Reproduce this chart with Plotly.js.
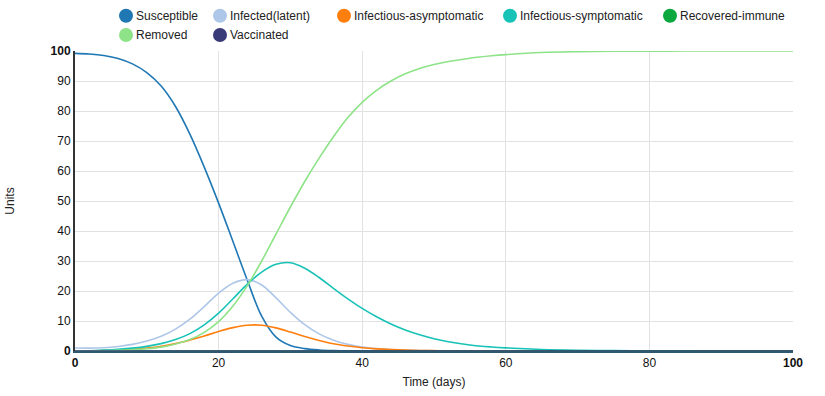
<!DOCTYPE html>
<html>
<head>
<meta charset="utf-8">
<script src="https://cdn.plot.ly/plotly-3.0.1.min.js"></script>
<style>
  html, body { margin: 0; padding: 0; background: #fff; }
  #chart { width: 825px; height: 396px; }
</style>
</head>
<body>
<div id="chart"></div>
<script>
// ---- Data ----
const timeDays = [0,2,4,6,8,10,12,14,16,18,20,22,24,26,28,30,32,34,36,38,40,42,44,46,48,50,52,55,58,60,65,70,75,80,85,90,95,100];

const susceptible = [99.2,99.0,98.5,97.5,95.7,92.8,88.3,81.5,72.3,61.3,49.3,36.5,23.6,11.6,4.6,1.8,0.8,0.35,0.15,0.07,0.03,0.01,0,0,0,0,0,0,0,0,0,0,0,0,0,0,0,0];
const infectedLatent = [1.0,0.95,1.1,1.5,2.2,3.3,4.9,7.3,10.6,14.8,19.3,22.6,23.8,22.0,17.7,12.9,8.8,5.7,3.6,2.2,1.3,0.78,0.46,0.27,0.16,0.1,0.06,0.03,0.015,0.01,0,0,0,0,0,0,0,0];
const infectiousAsym = [0,0.05,0.15,0.3,0.55,0.95,1.55,2.45,3.65,5.0,6.5,7.8,8.6,8.6,7.7,6.3,4.8,3.5,2.4,1.65,1.1,0.72,0.47,0.3,0.19,0.12,0.08,0.04,0.02,0.01,0,0,0,0,0,0,0,0];
const infectiousSym = [0,0.1,0.28,0.55,0.95,1.55,2.45,3.8,5.8,8.7,12.6,17.4,22.3,26.3,28.9,29.4,27.6,24.5,20.9,17.4,14.2,11.4,9.0,7.0,5.4,4.1,3.1,2.0,1.35,1.05,0.52,0.26,0.13,0.06,0.03,0.015,0,0];
const recoveredImmune = [0,0,0,0,0,0,0,0,0,0,0,0,0,0,0,0,0,0,0,0,0,0,0,0,0,0,0,0,0,0,0,0,0,0,0,0,0,0];
const removed = [0,0.02,0.08,0.2,0.4,0.75,1.3,2.3,3.8,6.2,9.8,15.0,21.8,30.0,39.0,48.0,56.5,64.3,71.4,77.8,82.9,86.9,90.0,92.4,94.2,95.5,96.5,97.6,98.4,98.8,99.5,99.78,99.9,99.96,99.98,100,100,100];
const vaccinated = [0,0,0,0,0,0,0,0,0,0,0,0,0,0,0,0,0,0,0,0,0,0,0,0,0,0,0,0,0,0,0,0,0,0,0,0,0,0];

const seriesNames = ["Susceptible","Infected(latent)","Infectious-asymptomatic","Infectious-symptomatic","Recovered-immune","Removed","Vaccinated"];
const seriesValues = [susceptible, infectedLatent, infectiousAsym, infectiousSym, recoveredImmune, removed, vaccinated];
const seriesColors = ["#1f77b4","#aec7e8","#ff7f0e","#17c2b6","#0aa83f","#8ee388","#393b79"];

const xTickVals = [0,20,40,60,80,100];
const xTickText = ["<b>0</b>","20","40","60","80","<b>100</b>"];
const yTickVals = [0,10,20,30,40,50,60,70,80,90,100];
const yTickText = ["<b>0</b>","10","20","30","40","50","60","70","80","90","<b>100</b>"];

// ---- Legend layout (pixel positions of the custom legend) ----
const legendMarkerPx = [[126,15.7],[220,15.7],[344,15.7],[510,15.7],[670,15.7],[126,35],[220,35]];

// ---- Build ----
const W = 825, H = 396;
const M = {l: 75, r: 32, t: 51, b: 45};
const PW = W - M.l - M.r, PH = H - M.t - M.b;
const px2paperX = px => (px - M.l) / PW;
const px2paperY = py => (H - M.b - py) / PH;

const FONT = "Liberation Sans, Arial, sans-serif";

const traces = seriesNames.map((name, i) => ({
  type: "scatter",
  mode: "lines",
  name: name,
  x: timeDays,
  y: seriesValues[i],
  line: {color: seriesColors[i], width: 1.6, shape: "spline", smoothing: 1},
  showlegend: false,
  hoverinfo: "x+y+name"
}));

const shapes = [];
const annotations = [];
seriesNames.forEach((name, i) => {
  const [cx, cy] = legendMarkerPx[i];
  shapes.push({
    type: "circle", xref: "paper", yref: "paper",
    xsizemode: "pixel", ysizemode: "pixel",
    xanchor: px2paperX(cx), yanchor: px2paperY(cy),
    x0: -7, x1: 7, y0: -7, y1: 7,
    fillcolor: seriesColors[i], line: {width: 0}
  });
  annotations.push({
    xref: "paper", yref: "paper",
    x: px2paperX(cx + 8), y: px2paperY(cy),
    xanchor: "left", yanchor: "middle",
    text: name, showarrow: false,
    font: {family: FONT, size: 12, color: "#222"}
  });
});

const layout = {
  width: W, height: H,
  margin: M,
  paper_bgcolor: "#fff", plot_bgcolor: "#fff",
  font: {family: FONT, size: 12, color: "#222"},
  showlegend: false,
  xaxis: {
    range: [0, 100],
    tickvals: xTickVals, ticktext: xTickText,
    showgrid: true, gridcolor: "#e2e2e2", gridwidth: 1,
    zeroline: false,
    showline: true, linecolor: "#2f5870", linewidth: 2,
    ticks: "", tickfont: {family: FONT, size: 12, color: "#111"},
    title: {text: "Time (days)", font: {family: FONT, size: 12, color: "#222"}, standoff: 8},
    automargin: false, fixedrange: true
  },
  yaxis: {
    range: [0, 100],
    tickvals: yTickVals, ticktext: yTickText,
    showgrid: true, gridcolor: "#e2e2e2", gridwidth: 1,
    zeroline: false,
    showline: true, linecolor: "#333", linewidth: 2,
    ticks: "", tickfont: {family: FONT, size: 12, color: "#111"},
    title: {text: "Units", font: {family: FONT, size: 12, color: "#222"}, standoff: 33},
    automargin: false, fixedrange: true
  },
  shapes: shapes,
  annotations: annotations
};

Plotly.newPlot("chart", traces, layout, {displayModeBar: false, staticPlot: false, responsive: false});
</script>
</body>
</html>
